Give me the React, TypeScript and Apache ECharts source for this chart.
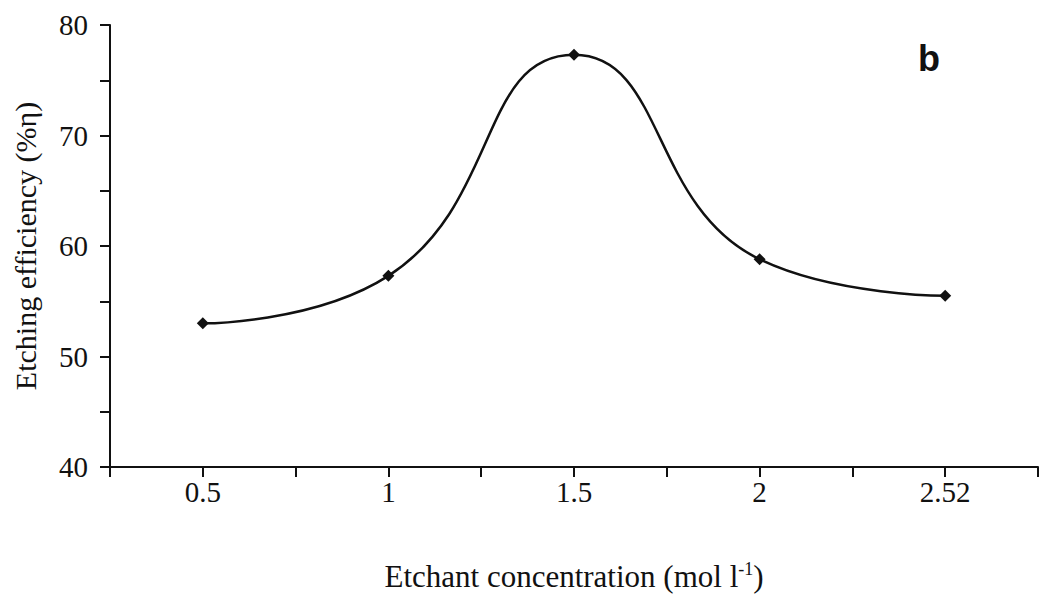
import React, { useEffect, useRef } from "react";
import * as echarts from "echarts";

const categories = ["0.5", "1", "1.5", "2", "2.52"];
const efficiency = [53.0, 57.3, 77.3, 58.8, 55.5];
const yTicks = [40, 50, 60, 70, 80];

const FONT = "'Liberation Serif', 'Times New Roman', serif";

export default function App() {
  const ref = useRef<HTMLDivElement>(null);
  useEffect(() => {
    if (!ref.current) return;
    const chart = echarts.init(ref.current, null, { renderer: "svg" });
    chart.setOption({
      animation: false,
      backgroundColor: "#ffffff",
      grid: { left: 110, right: 5, top: 25, bottom: 132, containLabel: false },
      xAxis: [
        {
          type: "category",
          data: categories,
          boundaryGap: true,
          position: "bottom",
          axisLine: { lineStyle: { color: "#111", width: 2 } },
          axisTick: { show: true, alignWithLabel: false, length: 10, lineStyle: { color: "#111", width: 2 } },
          axisLabel: { color: "#111", fontFamily: FONT, fontSize: 29, margin: 10 },
          name: "Etchant concentration (mol l{sup|-1})",
          nameLocation: "middle",
          nameGap: 93,
          nameTextStyle: {
            color: "#111",
            fontFamily: FONT,
            fontSize: 31,
            rich: { sup: { fontFamily: FONT, fontSize: 18, verticalAlign: "top", padding: [0, 0, 14, 0], color: "#111" } },
          },
        },
        {
          type: "category",
          data: categories,
          boundaryGap: true,
          position: "bottom",
          axisLine: { show: false },
          axisTick: { show: true, alignWithLabel: true, length: 10, lineStyle: { color: "#111", width: 2 } },
          axisLabel: { show: false },
        },
      ],
      yAxis: {
        type: "value",
        min: yTicks[0],
        max: yTicks[yTicks.length - 1],
        interval: 5,
        axisLine: { show: true, lineStyle: { color: "#111", width: 2 } },
        axisTick: { show: true, length: 10, lineStyle: { color: "#111", width: 2 } },
        splitLine: { show: false },
        axisLabel: {
          color: "#111",
          fontFamily: FONT,
          fontSize: 29,
          margin: 22,
          formatter: (v: number) => (yTicks.includes(v) ? String(v) : ""),
        },
        name: "Etching efficiency (%η)",
        nameLocation: "middle",
        nameGap: 70,
        nameTextStyle: { color: "#111", fontFamily: FONT, fontSize: 30 },
      },
      graphic: [
        {
          type: "text",
          left: 918,
          top: 40,
          style: { text: "b", fontFamily: "'Liberation Sans', Arial, sans-serif", fontWeight: "bold", fontSize: 36, fill: "#111" },
        },
      ],
      series: [
        {
          type: "line",
          xAxisIndex: 0,
          data: efficiency,
          smooth: 0.5,
          symbol: "diamond",
          symbolSize: 12,
          lineStyle: { color: "#111", width: 2.5 },
          itemStyle: { color: "#111" },
        },
      ],
    });
    return () => chart.dispose();
  }, []);
  return (
    <div
      ref={ref}
      style={{ position: "absolute", left: 0, top: 0, width: 1043, height: 599, background: "#fff" }}
    />
  );
}
